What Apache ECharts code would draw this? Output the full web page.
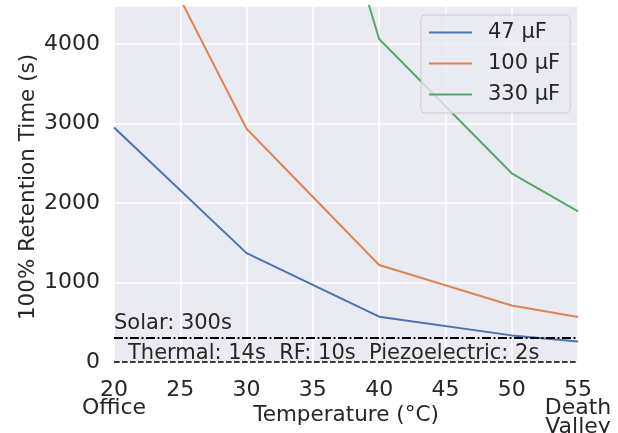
<!DOCTYPE html>
<html><head><meta charset="utf-8">
<script src="https://cdn.jsdelivr.net/npm/echarts@6/dist/echarts.min.js"></script>
<style>html,body{margin:0;padding:0;background:#fff}#c{width:618px;height:433px}</style>
</head><body><div id="c"></div>
<script>
const temps = [20, 30, 40, 50, 55];
const cap47 = [2950, 1370, 570, 335, 258];
const cap100 = [6200, 2935, 1220, 712, 565];
const cap330 = [20600, 9600, 4065, 2375, 1895];
const seriesNames = ['47 µF', '100 µF', '330 µF'];
const seriesColors = ['#4c72b0', '#dd8452', '#55a868'];
const xTickText = {20: '20\nOffice', 55: '55\nDeath\nValley'};
const yTicks = [0, 1000, 2000, 3000, 4000];
const solarLine = 300;
const otherLines = [14, 10, 2];
const solarLabel = 'Solar: 300s';
const otherLabel = 'Thermal: 14s  RF: 10s  Piezoelectric: 2s';

const FONT = 'DejaVu Sans';
const TXT = '#262626';
const chart = echarts.init(document.getElementById('c'), null, {renderer: 'canvas'});
const allData = [cap47, cap100, cap330];

const series = allData.map((vals, k) => ({
  name: seriesNames[k],
  type: 'line',
  data: temps.map((t, i) => [t, vals[i]]),
  symbol: 'none',
  lineStyle: {width: 2, color: seriesColors[k]},
  itemStyle: {color: seriesColors[k]},
  clip: true,
  z: 3
}));

series.push({
  type: 'line',
  data: [],
  silent: true,
  markLine: {
    silent: true,
    symbol: ['none', 'none'],
    animation: false,
    data: [
      {yAxis: solarLine, lineStyle: {type: [9, 2.5, 2, 2.5], color: '#000', width: 2},
       label: {show: true, position: 'insideStartTop', formatter: solarLabel, fontSize: 21, fontFamily: FONT, color: TXT, distance: [0, 4]}},
      ...otherLines.map((v, i) => ({
        yAxis: v, lineStyle: {type: [5.5, 2.5], color: '#333', width: 1.2},
        label: i === 0 ? {show: true, position: 'insideStartTop', formatter: otherLabel, fontSize: 21, fontFamily: FONT, color: TXT, distance: [14, -3]} : {show: false}
      }))
    ]
  },
  z: 2
});

chart.setOption({
  animation: false,
  textStyle: {fontFamily: FONT},
  grid: {left: 114, right: 40, top: 6, bottom: 71, show: true, backgroundColor: '#eaeaf2', borderWidth: 0, containLabel: false, outerBoundsMode: 'none'},
  legend: {
    orient: 'vertical', left: 421, top: 15,
    padding: [7, 10, 8, 8], itemWidth: 43, itemHeight: 2, itemGap: 10, icon: 'rect',
    backgroundColor: 'rgba(234,234,242,0.8)', borderColor: '#cccccc', borderWidth: 1, borderRadius: 4,
    textStyle: {fontSize: 21, color: TXT, fontFamily: FONT, padding: [0, 0, 0, 11]},
    data: seriesNames
  },
  xAxis: {
    type: 'value', min: 20, max: 55, interval: 5,
    axisLine: {show: false}, axisTick: {show: false},
    splitLine: {show: true, lineStyle: {color: '#ffffff', width: 1.5}},
    axisLabel: {formatter: v => xTickText[v] || String(v), fontSize: 22, color: TXT, fontFamily: FONT, lineHeight: 18.5, margin: 19},
    name: 'Temperature (°C)', nameLocation: 'middle', nameGap: 42, nameMoveOverlap: false,
    nameTextStyle: {fontSize: 21.5, color: TXT, fontFamily: FONT}
  },
  yAxis: {
    type: 'value', min: 0, max: 4480, interval: 1000,
    axisLine: {show: false}, axisTick: {show: false},
    splitLine: {show: true, lineStyle: {color: '#ffffff', width: 1.5}},
    axisLabel: {formatter: v => yTicks.includes(v) ? String(v) : '', fontSize: 22, color: TXT, fontFamily: FONT, margin: 14, padding: [5, 0, 0, 0]},
    name: '100% Retention Time (s)', nameLocation: 'middle', nameGap: 75, nameRotate: 90, nameMoveOverlap: false,
    nameTextStyle: {fontSize: 21.5, color: TXT, fontFamily: FONT, padding: [0, 6, 0, 0]}
  },
  series: series
});
</script>
</body></html>
